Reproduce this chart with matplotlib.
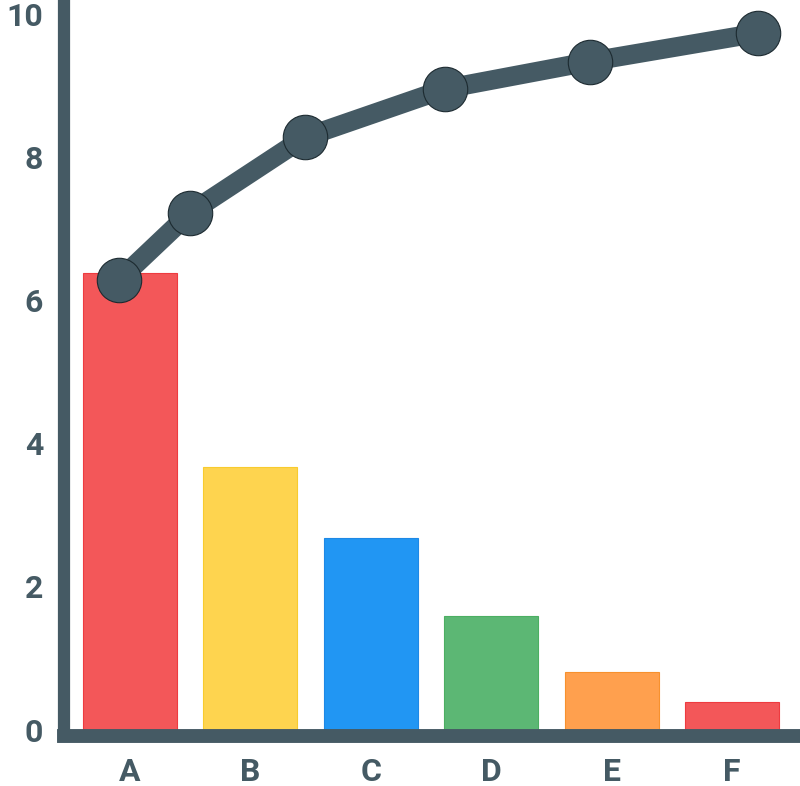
import numpy as np
import matplotlib
matplotlib.use("Agg")
import matplotlib.pyplot as plt


categories = ["A", "B", "C", "D", "E", "F"]
bar_values = [6.38, 3.67, 2.67, 1.59, 0.81, 0.38]
bar_colors = ["#F35759", "#FED44F", "#2196F3", "#5CB774", "#FFA04E", "#F35759"]
bar_edges = ["#EE3B40", "#F8CB2E", "#1E88E5", "#4CAF62", "#F7912E", "#EE3B40"]

# the cumulative line is offset from the bar centres in the original
line_x = [-0.09, 0.50, 1.45, 2.62, 3.82, 5.22]
line_values = [6.28, 7.22, 8.27, 8.95, 9.33, 9.73]

yticks = [0, 2, 4, 6, 8, 10]

DARK = "#455A64"

plt.rcParams["font.family"] = ["Roboto", "DejaVu Sans"]

fig = plt.figure(figsize=(8.0, 7.86), dpi=100)
ax = fig.add_axes([64 / 800, 50 / 786, 1 - 64 / 800, 1 - 50 / 786])

x = np.arange(len(categories))
ax.bar(x, bar_values, width=0.78, color=bar_colors, edgecolor=bar_edges,
       linewidth=0.8, zorder=2)
ax.plot(line_x, line_values, color=DARK, linewidth=14, marker="o",
        markersize=32, markerfacecolor=DARK, markeredgecolor="#1c2a30",
        markeredgewidth=0.8, zorder=3, solid_capstyle="round")

ax.set_xlim(-0.548, 5.565)
ax.set_ylim(-0.09, 10.19)

ax.set_xticks(x)
ax.set_xticklabels(categories)
ax.set_yticks(yticks)
ax.set_yticklabels([str(v) for v in yticks])
ax.tick_params(length=0, labelsize=23, labelcolor=DARK)
ax.tick_params(axis="y", pad=15)
ax.tick_params(axis="x", pad=15)
for lab in ax.get_xticklabels() + ax.get_yticklabels():
    lab.set_fontweight("bold")

for side in ["top", "right"]:
    ax.spines[side].set_visible(False)
ax.spines["left"].set_linewidth(8.8)
ax.spines["bottom"].set_linewidth(10)
for side in ["left", "bottom"]:
    ax.spines[side].set_color(DARK)
    ax.spines[side].set_zorder(4)

fig.savefig("out.png", dpi=100, facecolor="white")
